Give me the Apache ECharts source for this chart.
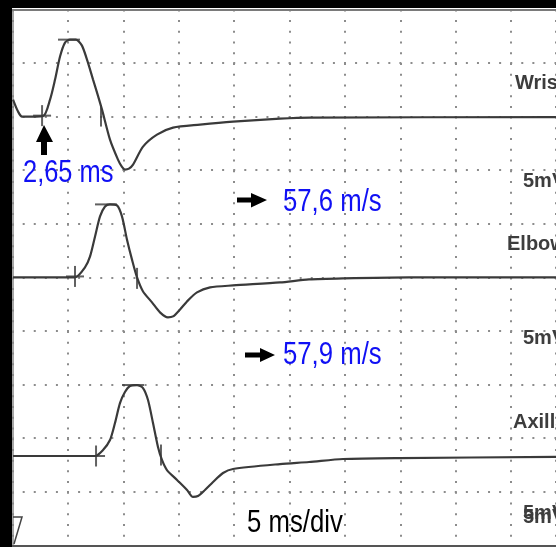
<!DOCTYPE html>
<html><head><meta charset="utf-8">
<script src="https://cdn.jsdelivr.net/npm/echarts@6/dist/echarts.min.js"></script>
<style>html,body{margin:0;padding:0;background:#000;}#c{width:556px;height:547px;}</style>
</head><body><div id="c"></div>
<script>
// Time in ms, amplitude in mV relative to each trace's own baseline (5 mV/div, 5 ms/div)
const wristTime = [0.04,0.49,0.85,2.74,3.38,3.83,4.28,4.73,5.18,5.72,6.26,6.80,7.26,7.62,8.07,8.79,9.51,9.87,10.14,10.50,10.87,11.77,13.03,14.48,16.91,19.89,24.13,26.84,49.04];
const wristAmp  = [1.59,0.47,0,0.05,1.59,3.45,5.60,6.90,7.18,7.18,6.62,5.04,3.45,2.24,0.65,-2.15,-4.01,-4.70,-4.94,-4.85,-4.48,-2.80,-1.68,-1.03,-0.75,-0.47,-0.19,-0.09,-0.05];
const elbowTime = [0.04,5.63,6.53,6.99,7.44,7.89,8.34,8.79,9.42,9.87,10.32,10.77,11.23,11.77,12.58,13.30,14.02,14.48,15.11,15.74,16.64,17.82,19.89,24.13,26.75,29.82,35.77,49.04];
const elbowAmp  = [0,0,0.93,1.96,3.82,5.69,6.62,6.81,6.72,5.69,3.54,1.68,0,-1.31,-2.33,-3.26,-3.73,-3.64,-2.99,-2.24,-1.40,-0.93,-0.75,-0.47,-0.19,-0.09,0,0];
const axillaTime = [0.04,7.44,8.16,8.79,9.24,9.69,10.14,10.59,11.23,11.77,12.22,12.67,13.12,13.48,13.93,14.84,15.74,16.28,16.73,17.36,18.09,18.99,19.89,24.13,26.75,29.82,34.87,49.04];
const axillaAmp  = [0,0,0.56,1.49,3.08,4.94,5.97,6.53,6.62,6.34,5.22,3.08,0.84,-0.37,-1.31,-2.24,-3.17,-3.82,-3.73,-3.17,-2.43,-1.59,-1.21,-0.75,-0.56,-0.28,-0.19,-0.09];
// markers: onset, peak, baseline crossing  [ms, mV]
const wristMarkers  = [[2.66,0.09],[5.09,7.18],[7.98,0.05]];
const elbowMarkers  = [[5.63,0.09],[8.43,6.81],[11.23,-0.09]];
const axillaMarkers = [[7.53,0],[10.87,6.62],[13.39,0.09]];
const traceNames = ['Wrist','Elbow','Axilla'];
const gainText = '5mV';
const latencyText = '2,65 ms';
const velocityTexts = ['57,6 m/s','57,9 m/s'];
const sweepText = '5 ms/div';
const traceBaselines = [40, 25, 8.34]; // mV position of each trace on the 50 mV screen

const X_MAX = 49.04;
const traceColor = '#3a3a3a';
const traces = [[wristTime,wristAmp,wristMarkers],[elbowTime,elbowAmp,elbowMarkers],[axillaTime,axillaAmp,axillaMarkers]];
const series = [];
traces.forEach(([t,a,m],i)=>{
  const off = traceBaselines[i];
  series.push({type:'line', name:traceNames[i], data:t.map((v,k)=>[v,a[k]+off]), showSymbol:false, smooth:0.25,
    lineStyle:{color:traceColor,width:2.2}, silent:true, z:3});
  series.push({type:'scatter', silent:true, z:4, itemStyle:{color:traceColor},
    data:[
      {value:[m[0][0],m[0][1]+off], symbol:'rect', symbolSize:[18,2]},
      {value:[m[0][0],m[0][1]+off], symbol:'rect', symbolSize:[2,21]},
      {value:[m[1][0],m[1][1]+off], symbol:'rect', symbolSize:[22,2]},
      {value:[m[2][0],m[2][1]+off], symbol:'rect', symbolSize:[2,21]}
    ]});
});

const labelFont = 'bold 20px "Liberation Sans", Arial, sans-serif';
const labelFill = '#3d3d3d';
const narrowFont = '31px "Liberation Sans", Arial, sans-serif';
const blue = '#1010f4';
function gtext(x,y,text,font,fill,sx){
  return {type:'text', x:x, y:y, scaleX:sx||1, z:10, silent:true,
    style:{text:text, font:font, fill:fill, verticalAlign:'middle', align:'left'}};
}
const graphic = [
  {type:'rect', shape:{x:0,y:0,width:556,height:8}, style:{fill:'#000'}, z:20, silent:true},
  {type:'rect', shape:{x:0,y:0,width:12,height:547}, style:{fill:'#000'}, z:20, silent:true},
  gtext(515,83.5,traceNames[0],labelFont,labelFill),
  gtext(523,181,gainText,labelFont,labelFill),
  gtext(507,244,traceNames[1],labelFont,labelFill),
  gtext(523,338.5,gainText,labelFont,labelFill),
  gtext(513,422,traceNames[2],labelFont,labelFill),
  gtext(523,513,gainText,labelFont,labelFill),
  gtext(523,517,gainText,labelFont,labelFill),
  gtext(23,173.5,latencyText,narrowFont,blue,0.82),
  gtext(283,202.5,velocityTexts[0],narrowFont,blue,0.83),
  gtext(283,355.5,velocityTexts[1],narrowFont,blue,0.83),
  gtext(247,523.5,sweepText,narrowFont,'#000',0.83),
  // arrows
  {type:'polygon', z:10, silent:true, shape:{points:[[44,125],[53,142],[47,142],[47,155],[41,155],[41,142],[36,142]]}, style:{fill:'#000'}},
  {type:'polygon', z:10, silent:true, shape:{points:[[237,197.5],[251,197.5],[251,193],[267,200],[251,207.5],[251,202.5],[237,202.5]]}, style:{fill:'#000'}},
  {type:'polygon', z:10, silent:true, shape:{points:[[245,352.5],[260,352.5],[260,348],[275,355],[260,362],[260,357.5],[245,357.5]]}, style:{fill:'#000'}},
  {type:'polyline', z:10, silent:true, shape:{points:[[13,517],[22,517],[14,544]]}, style:{stroke:'#444',lineWidth:1.5,fill:null}}
];

const chart = echarts.init(document.getElementById('c'), null, {renderer:'canvas'});
chart.setOption({
  animation:false,
  backgroundColor:'#fff',
  grid:{left:12.6, top:9.4, right:0, bottom:1.6, show:true, backgroundColor:'#fff', borderWidth:0},
  xAxis:[
    {type:'value', position:'bottom', min:0, max:X_MAX, interval:5,
      axisLine:{show:true,onZero:false,lineStyle:{color:'#555',width:2}}, axisTick:{show:false}, axisLabel:{show:false},
      splitLine:{show:true,lineStyle:{color:'#8c8c8c',width:2,type:[2,8.72]}}},
    {type:'value', position:'top', min:0, max:X_MAX, interval:5,
      axisLine:{show:true,onZero:false,lineStyle:{color:'#7a7a7a',width:2}}, axisTick:{show:false}, axisLabel:{show:false},
      splitLine:{show:false}}
  ],
  yAxis:{type:'value', min:0, max:50, interval:5,
    axisLine:{show:true,onZero:false,lineStyle:{color:'#8a8a8a',width:1.5}}, axisTick:{show:false}, axisLabel:{show:false},
    splitLine:{show:true,lineStyle:{color:'#8c8c8c',width:2,type:[2,9.08],dashOffset:1}}},
  series:series,
  graphic:graphic
});
</script></body></html>
